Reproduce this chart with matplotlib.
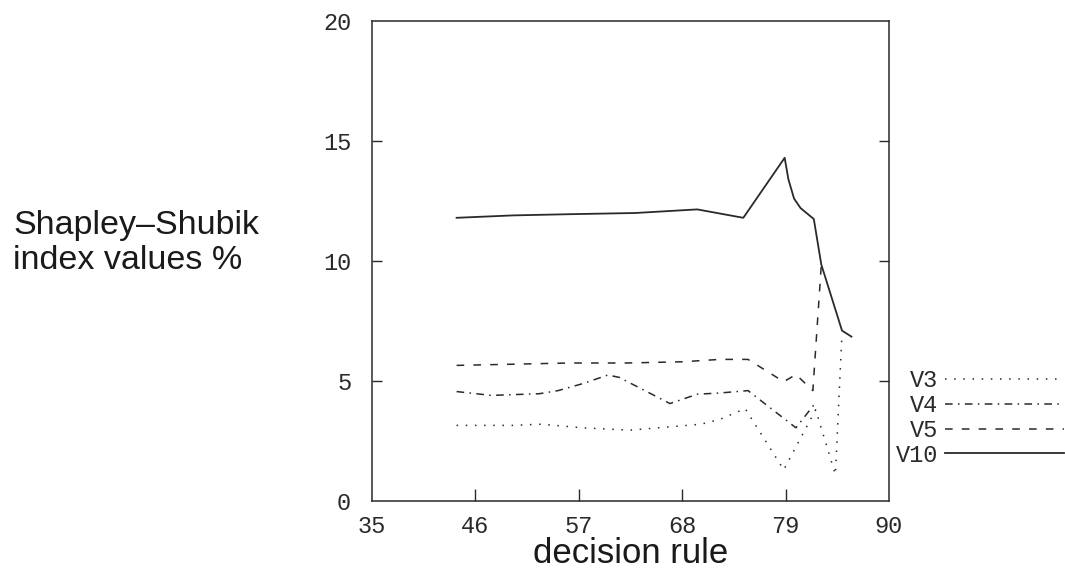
import matplotlib
matplotlib.use("Agg")
import matplotlib.pyplot as plt

# ---- data ----
v3_x = [44, 50, 53, 57.4, 62.4, 67, 70, 72, 74.7, 78.8, 82.2, 84.3, 85]
v3_y = [3.15, 3.15, 3.2, 3.05, 2.95, 3.1, 3.2, 3.4, 3.85, 1.3, 3.8, 1.1, 7.0]

v4_x = [44, 47.7, 52.8, 54.8, 57.5, 60.1, 61.3, 66.7, 69.6, 72, 75, 80.1, 82]
v4_y = [4.56, 4.4, 4.47, 4.6, 4.9, 5.25, 5.15, 4.06, 4.45, 4.5, 4.6, 3.05, 4.0]

v5_x = [44, 50, 56, 62, 68, 72, 75, 78.8, 80.1, 81.9, 82.8]
v5_y = [5.65, 5.7, 5.75, 5.75, 5.8, 5.9, 5.9, 4.97, 5.27, 4.6, 9.85]

v10_x = [44, 50, 56, 63, 69.6, 74.5, 78.9, 79.3, 79.9, 80.6, 82, 82.8, 85, 86]
v10_y = [11.8, 11.9, 11.95, 12.0, 12.15, 11.8, 14.3, 13.4, 12.6, 12.2, 11.75, 9.85, 7.1, 6.85]

series_labels = ["V3", "V4", "V5", "V10"]
x_ticks = [35, 46, 57, 68, 79, 90]
y_ticks = [0, 5, 10, 15, 20]

W, H = 1065, 569
fig = plt.figure(figsize=(W / 100, H / 100), dpi=100)
ax = fig.add_axes([372 / W, (H - 501) / H, 517 / W, 480 / H])

ink = "#2a2a2a"
ax.plot(v3_x, v3_y, color=ink, lw=1.1, dashes=(1, 5), label=series_labels[0])
ax.plot(v4_x, v4_y, color=ink, lw=1.1, dashes=(5, 3.5, 1, 3.5), label=series_labels[1])
ax.plot(v5_x, v5_y, color=ink, lw=1.1, dashes=(5, 6), label=series_labels[2])
ax.plot(v10_x, v10_y, color=ink, lw=1.3, label=series_labels[3])

ax.set_xlim(35, 90)
ax.set_ylim(0, 20)
ax.set_xticks(x_ticks)
ax.set_yticks(y_ticks)

mono = "Liberation Mono"
for lab in ax.get_xticklabels() + ax.get_yticklabels():
    lab.set_fontfamily(mono)
ax.tick_params(axis="x", direction="in", length=9, width=1, pad=10,
               labelsize=17, colors=ink, top=False)
ax.tick_params(axis="y", direction="in", length=7, width=1, pad=15,
               labelsize=17, colors=ink, right=True)
# no tick marks at the corners (only labels), as in the reference
for t in ax.xaxis.get_major_ticks():
    if t.get_loc() in (x_ticks[0], x_ticks[-1]):
        t.tick1line.set_visible(False)
        t.tick2line.set_visible(False)
for t in ax.yaxis.get_major_ticks():
    if t.get_loc() in (y_ticks[0], y_ticks[-1]):
        t.tick1line.set_visible(False)
        t.tick2line.set_visible(False)
for s in ax.spines.values():
    s.set_color(ink)
    s.set_linewidth(1.1)

sans = "Liberation Sans"
ax.set_xlabel("decision rule", fontsize=25, family=sans, color="#1a1a1a", va="baseline")
ax.xaxis.set_label_coords(0.5, (501 - 563) / 480)
ax.set_ylabel("Shapley\u2013Shubik\nindex values %", fontsize=24.5, family=sans,
              color="#1a1a1a", rotation=0, ha="left", va="center", linespacing=1.2)
ax.yaxis.set_label_coords((13 - 372) / 517, (501 - 243) / 480)

leg = ax.legend(loc="upper left", bbox_to_anchor=(896 / W, (H - 369) / H),
                bbox_transform=fig.transFigure, frameon=False, markerfirst=False,
                prop={"family": mono, "size": 17}, handlelength=5.0,
                handletextpad=0.3, labelspacing=0.08, borderpad=0, borderaxespad=0)
for t in leg.get_texts():
    t.set_color(ink)

fig.savefig("out.png", dpi=100, facecolor="white")
